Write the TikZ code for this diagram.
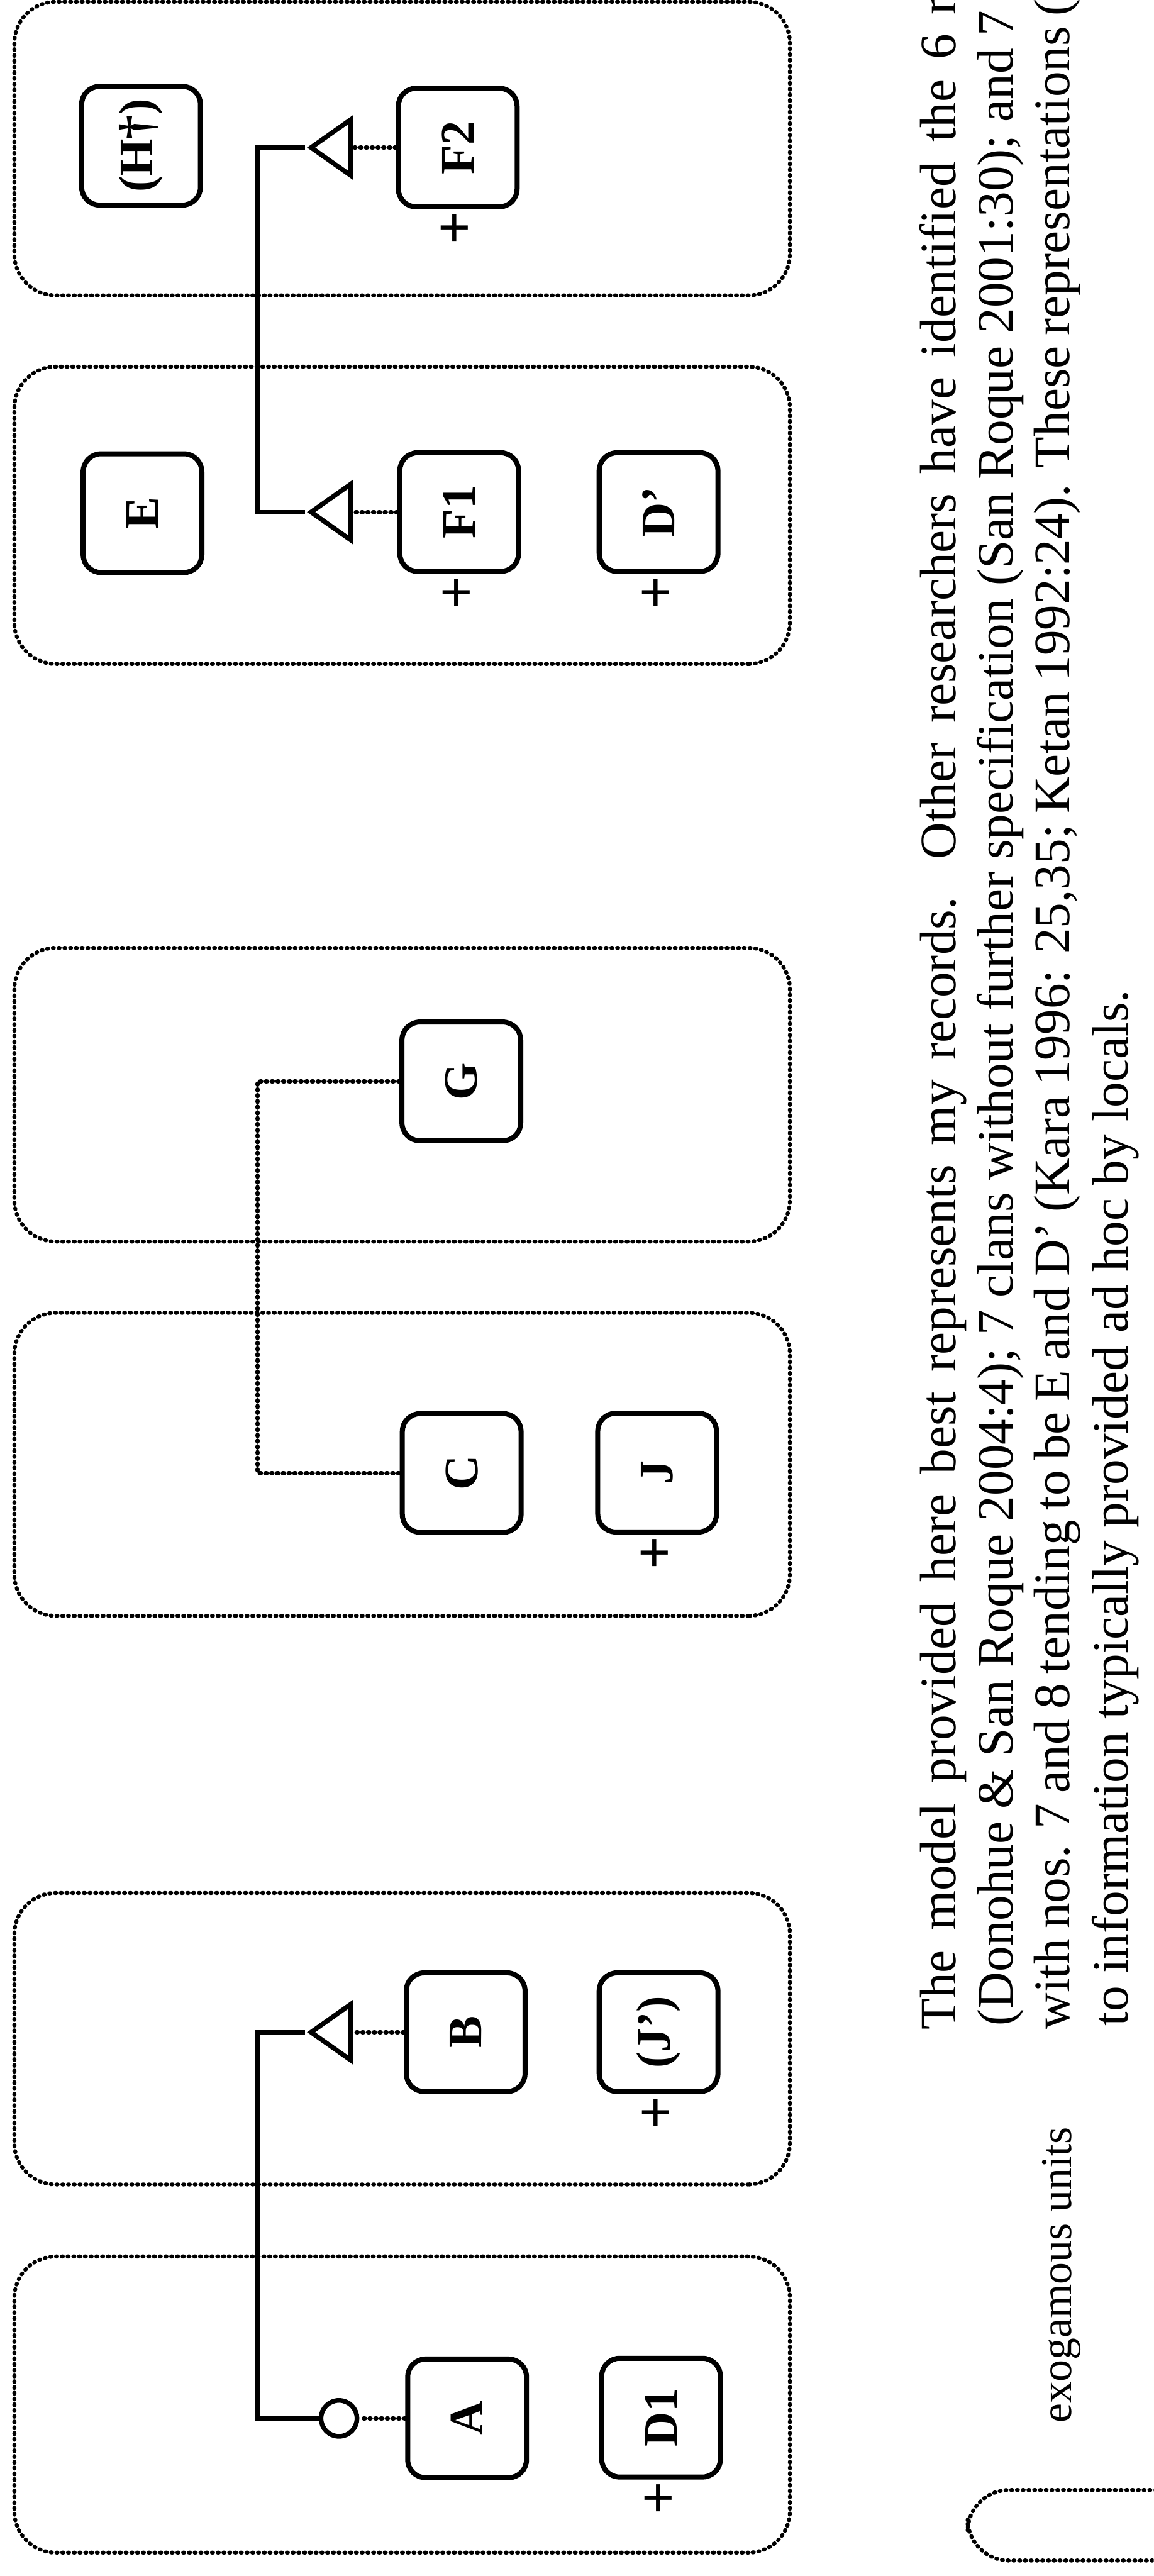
\documentclass[tikz,border=0pt]{standalone}
\usepackage{fontspec}
\setmainfont{Liberation Serif}
\usetikzlibrary{shapes.geometric,positioning}

\begin{document}
\begin{tikzpicture}[
  unit/.style={line width=0.11cm, dash pattern=on 0.03cm off 0.13cm, line cap=round, rounded corners=1.15cm},
  clan/.style={draw, line width=0.14cm, rounded corners=0.5cm, minimum width=3.3cm, minimum height=3.3cm, inner sep=0, font=\bfseries\fontsize{38}{40}\selectfont},
  plus/.style={inner sep=0, font=\bfseries\fontsize{46}{48}\selectfont},
  tri/.style={draw, line width=0.13cm, isosceles triangle, isosceles triangle stretches, shape border rotate=90, minimum width=1.55cm, minimum height=1.1cm, inner sep=0, anchor=lower side},
  ring/.style={draw, circle, line width=0.13cm, minimum size=1cm, inner sep=0},
  link/.style={line width=0.13cm},
  tie/.style={line width=0.12cm, dash pattern=on 0.03cm off 0.13cm, line cap=round},
  txt/.style={anchor=base west, inner sep=0, font=\fontsize{40.4}{45}\selectfont},
]
\begin{scope}[rotate=90, transform shape]
\clip (0,0) rectangle (71.58,32.06);
\useasboundingbox (0,0) rectangle (71.58,32.06);

% exogamous units
\draw[unit] (0.65,10.11) rectangle (8.88,31.66);
\draw[unit] (10.88,10.11) rectangle (18.98,31.66);
\draw[unit] (26.68,10.11) rectangle (35.10,31.66);
\draw[unit] (37.08,10.11) rectangle (45.24,31.66);
\draw[unit] (53.13,10.11) rectangle (61.39,31.66);
\draw[unit] (63.37,10.11) rectangle (71.53,31.66);

% clans
\node[clan] (A) at (4.38,19.08) {A};
\node[clan] (D1) at (4.40,13.69) {D1};
\node[clan] (B) at (15.11,19.12) {B};
\node[clan] (J') at (15.11,13.76) {(J’)};
\node[clan] (C) at (30.65,19.23) {C};
\node[clan] (J) at (30.66,13.80) {J};
\node[clan] (G) at (41.53,19.24) {G};
\node[clan] (E) at (57.32,28.10) {E};
\node[clan] (F1) at (57.35,19.30) {F1};
\node[clan] (D') at (57.35,13.76) {D’};
\node[clan] (H) at (67.53,28.14) {(H†)};
\node[clan] (F2) at (67.48,19.34) {F2};

% plus marks
\node[plus, left=0.05cm of D1] (pD1) {+};
\node[plus, left=0.05cm of J'] (pJ') {+};
\node[plus, left=0.05cm of J] (pJ) {+};
\node[plus, left=0.05cm of F1] (pF1) {+};
\node[plus, left=0.05cm of D'] (pD') {+};
\node[plus, left=0.05cm of F2] (pF2) {+};

% moieties
\node[ring] (rA) at (4.38,22.64) {};
\node[tri] (tB) at (15.11,22.25) {};
\node[tri] (tF1) at (57.35,22.25) {};
\node[tri] (tF2) at (67.48,22.25) {};
\coordinate (spine) at (0,24.9);

\draw[tie] (A.north) -- (rA.south);
\draw[tie] (B.north) -- (tB.lower side);
\draw[tie] (F1.north) -- (tF1.lower side);
\draw[tie] (F2.north) -- (tF2.lower side);

\draw[link] (tB.apex) -- (tB.apex |- spine) -| (rA.north);
\draw[link] (tF2.apex) -- (tF2.apex |- spine) -| (tF1.apex);
\draw[tie] (G.north) -- (G.north |- spine) -| (C.north);

% key
\draw[unit] (0.43,-4) rectangle (2.39,5.17);
\node[anchor=base west, inner sep=0, font=\fontsize{34.7}{40}\selectfont] (key) at (4.24,2.29) {exogamous units};

% caption
\node[txt] (l1) at (15.17,5.51) {\makebox[57.1cm][s]{The model provided here best represents my records. Other researchers have identified the 6 m}};
\node[txt] (l2) at (15.28,3.91) {\makebox[56.0cm][s]{(Donohue \& San Roque 2004:4); 7 clans without further specification (San Roque 2001:30); and 7}};
\node[txt] (l3) at (15.17,2.34) {\makebox[56.42cm][s]{with nos. 7 and 8 tending to be E and D’ (Kara 1996: 25,35; Ketan 1992:24). These representations (}};
\node[txt] (l4) at (15.28,0.71) {to information typically provided ad hoc by locals.};
\end{scope}
\end{tikzpicture}
\end{document}
